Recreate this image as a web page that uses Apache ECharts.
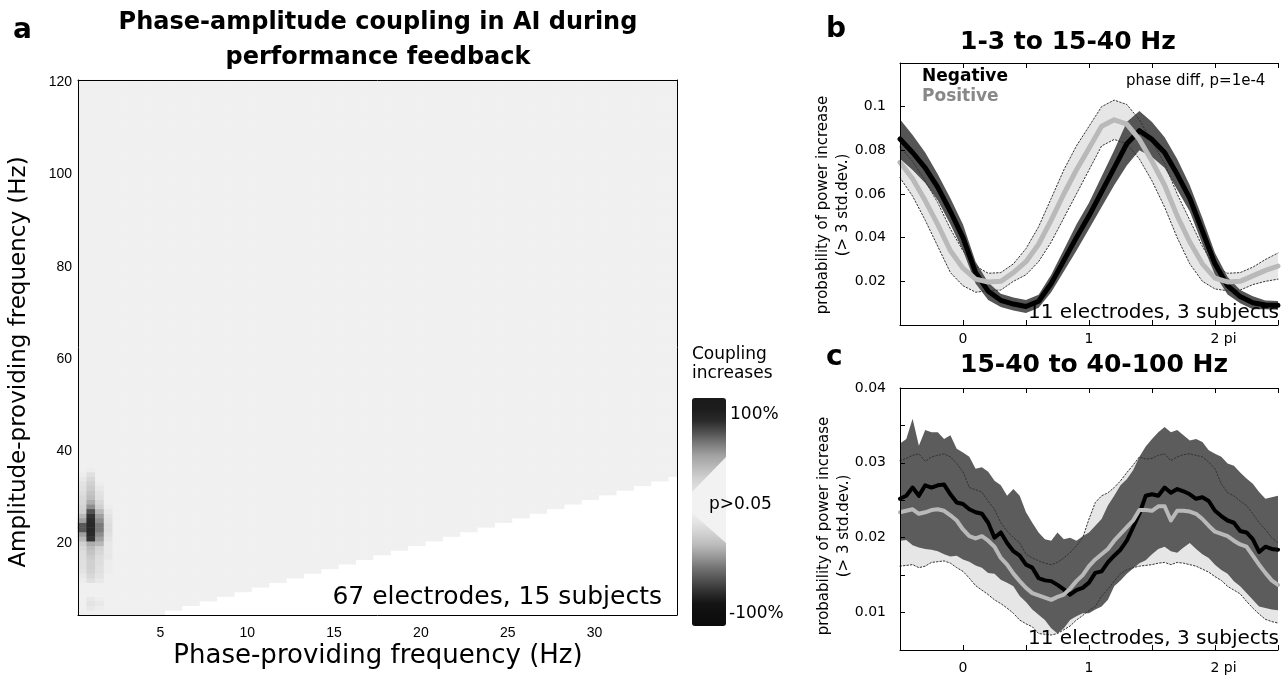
<!DOCTYPE html>
<html>
<head>
<meta charset="utf-8">
<title>phase-amplitude coupling</title>
<script src="https://cdn.jsdelivr.net/npm/echarts@6/dist/echarts.min.js"></script>
<style>
  html, body { margin: 0; padding: 0; background: #fff; }
  #DIV1 { width: 1281px; height: 675px; }
</style>
</head>
<body>
<div id="DIV1"></div>
<script>
// ---------- panel a : coupling map ----------
const phaseHz = [0.5,1,1.5,2,2.5,3,3.5,4,4.5,5,5.5,6,6.5,7,7.5,8,8.5,9,9.5,10,
  10.5,11,11.5,12,12.5,13,13.5,14,14.5,15,15.5,16,16.5,17,17.5,18,18.5,19,19.5,20,
  20.5,21,21.5,22,22.5,23,23.5,24,24.5,25,25.5,26,26.5,27,27.5,28,28.5,29,29.5,30,
  30.5,31,31.5,32,32.5,33,33.5,34,34.5];
const ampHz = [5,6,7,8,9,10,11,12,13,14,15,16,17,18,19,20,21,22,23,24,
  25,26,27,28,29,30,31,32,33,34,35,36,37,38,39,40,41,42,43,44,
  45,46,47,48,49,50,51,52,53,54,55,56,57,58,59,60,61,62,63,64,
  65,66,67,68,69,70,71,72,73,74,75,76,77,78,79,80,81,82,83,84,
  85,86,87,88,89,90,91,92,93,94,95,96,97,98,99,100,101,102,103,104,
  105,106,107,108,109,110,111,112,113,114,115,116,117,118,119,120];
// lowest amplitude bin that holds a value, per phase column (below it: white)
const firstAmpHz = [5,5,5,5,5,5,5,5,5,5, 6,6,7,7,8,8,9,9,10,10,
  11,11,12,12,13,13,14,14,15,15, 16,16,17,17,18,18,19,19,20,20,
  21,21,22,22,23,23,24,24,25,25, 26,26,27,27,28,28,29,29,30,30,
  31,31,32,32,33,33,34,34,35];
const baseCoupling = 0;
// the dark spot near 1 Hz / 24 Hz
const blobPhaseHz = [0.5, 1, 1.5, 2];
const blobAmpHz = [6,7,8,9,10,11,12,13,14,15,16,17,18,19,20,21,22,23,24,25,26,27,28,29,30,31,32,33,34,35,36];
const blob05 = [0,0,0,0,0,0,.12,.15,.18,.2,.2,.22,.22,.25,.3,.4,.5,.68,.68,.5,.4,.3,.28,.25,.25,.22,.2,.18,.15,.12,.1];
const blob10 = [.15,.18,.15,0,0,.1,.2,.25,.28,.3,.3,.32,.35,.38,.45,.78,.8,.82,.82,.8,.78,.7,.55,.45,.38,.35,.32,.3,.25,.2,.12];
const blob15 = [.12,.15,.12,0,0,.1,.15,.18,.2,.2,.22,.22,.25,.28,.4,.5,.55,.6,.6,.55,.5,.4,.3,.25,.2,.18,.15,.12,.1,0,0];
const blob20 = [0,0,0,0,0,0,0,.1,.12,.12,.12,.15,.15,.15,.15,.18,.2,.22,.22,.2,.18,.15,.12,.1,0,0,0,0,0,0,0];

// ---------- panel b : 1-3 to 15-40 Hz ----------
const phaseB = [-0.5,-0.4,-0.3,-0.2,-0.1,0,0.1,0.2,0.3,0.4,0.5,0.6,0.7,0.8,0.9,1,
  1.1,1.2,1.3,1.4,1.5,1.6,1.7,1.8,1.9,2,2.1,2.2,2.3,2.4,2.5];
const negB = [0.0852,0.079,0.072,0.063,0.052,0.040,0.024,0.0155,0.0113,0.0096,0.0085,0.0109,0.019,0.0295,0.040,0.050,
  0.061,0.072,0.083,0.089,0.085,0.079,0.069,0.058,0.043,0.028,0.018,0.013,0.0102,0.0092,0.009];
const negBHi = [0.0942,0.087,0.079,0.069,0.058,0.046,0.029,0.0195,0.0143,0.0126,0.0115,0.0139,0.023,0.0345,0.046,0.056,
  0.068,0.080,0.093,0.098,0.093,0.086,0.076,0.064,0.049,0.033,0.022,0.016,0.0132,0.0112,0.011];
const negBLo = [0.0762,0.071,0.065,0.057,0.046,0.034,0.019,0.0115,0.0083,0.0066,0.0055,0.0079,0.015,0.0245,0.034,0.044,
  0.054,0.064,0.073,0.080,0.077,0.072,0.062,0.052,0.037,0.023,0.014,0.010,0.0072,0.0072,0.007];
const posB = [0.0745,0.067,0.057,0.046,0.034,0.026,0.021,0.0197,0.020,0.024,0.029,0.037,0.048,0.060,0.071,0.081,
  0.091,0.094,0.092,0.085,0.075,0.064,0.050,0.038,0.028,0.0215,0.0197,0.020,0.0225,0.025,0.027];
const posBHi = [0.0815,0.075,0.066,0.056,0.044,0.034,0.027,0.0237,0.024,0.028,0.035,0.045,0.058,0.071,0.082,0.091,
  0.100,0.103,0.101,0.094,0.084,0.074,0.060,0.048,0.036,0.0265,0.0237,0.024,0.0265,0.030,0.033];
const posBLo = [0.0675,0.059,0.048,0.036,0.024,0.018,0.015,0.0157,0.016,0.020,0.023,0.029,0.038,0.049,0.060,0.071,
  0.082,0.085,0.083,0.076,0.066,0.054,0.040,0.028,0.020,0.0165,0.0157,0.016,0.0185,0.020,0.021];

// ---------- panel c : 15-40 to 40-100 Hz ----------
const phaseC = [-0.5,-0.45,-0.4,-0.35,-0.3,-0.25,-0.2,-0.15,-0.1,-0.05,0,0.05,0.1,0.15,0.2,0.25,0.3,0.35,0.4,0.45,
  0.5,0.55,0.6,0.65,0.7,0.75,0.8,0.85,0.9,0.95,1,1.05,1.1,1.15,1.2,1.25,1.3,1.35,1.4,1.45,
  1.5,1.55,1.6,1.65,1.7,1.75,1.8,1.85,1.9,1.95,2,2.05,2.1,2.15,2.2,2.25,2.3,2.35,2.4,2.45,2.5];
const negC = [0.0252,0.0256,0.0267,0.0256,0.0270,0.0267,0.0270,0.0271,0.0258,0.0247,
  0.0245,0.0238,0.0234,0.0232,0.0220,0.0200,0.0207,0.0193,0.0182,0.0176,
  0.0164,0.0160,0.0146,0.0143,0.0142,0.0137,0.0131,0.0124,0.0130,0.0133,
  0.0140,0.0153,0.0155,0.0167,0.0176,0.0184,0.0196,0.0214,0.0232,0.0256,
  0.0258,0.0256,0.0267,0.0260,0.0265,0.0262,0.0258,0.0252,0.0254,0.0249,
  0.0236,0.0229,0.0223,0.0220,0.0209,0.0207,0.0198,0.0181,0.0188,0.0185,0.0184];
const negCHi = [0.0326,0.0332,0.0359,0.0323,0.0344,0.0341,0.0341,0.0332,0.0337,0.0319,
  0.0314,0.0308,0.0292,0.0294,0.0288,0.0276,0.0270,0.0256,0.0265,0.0256,
  0.0234,0.0220,0.0207,0.0198,0.0196,0.0207,0.0198,0.0200,0.0196,0.0202,
  0.0207,0.0216,0.0225,0.0243,0.0256,0.0270,0.0278,0.0290,0.0308,0.0322,
  0.0332,0.0341,0.0348,0.0341,0.0344,0.0337,0.0330,0.0332,0.0328,0.0317,
  0.0312,0.0308,0.0299,0.0296,0.0287,0.0279,0.0272,0.0261,0.0252,0.0254,0.0256];
const negCLo = [0.0196,0.0197,0.0190,0.0187,0.0185,0.0184,0.0182,0.0178,0.0175,0.0176,
  0.0171,0.0168,0.0163,0.0160,0.0153,0.0152,0.0144,0.0140,0.0135,0.0122,
  0.0114,0.0104,0.0097,0.0090,0.0079,0.0072,0.0079,0.0090,0.0095,0.0099,
  0.0099,0.0104,0.0108,0.0117,0.0135,0.0143,0.0152,0.0159,0.0166,0.0170,
  0.0178,0.0185,0.0188,0.0182,0.0180,0.0187,0.0193,0.0185,0.0178,0.0173,
  0.0164,0.0157,0.0152,0.0142,0.0135,0.0126,0.0117,0.0108,0.0106,0.0104,0.0103];
const posC = [0.0234,0.0236,0.0238,0.0232,0.0234,0.0237,0.0238,0.0236,0.0230,0.0223,
  0.0211,0.0202,0.0199,0.0202,0.0196,0.0188,0.0173,0.0164,0.0152,0.0142,
  0.0133,0.0126,0.0123,0.0120,0.0117,0.0121,0.0124,0.0132,0.0142,0.0150,
  0.0162,0.0171,0.0178,0.0185,0.0196,0.0205,0.0214,0.0223,0.0237,0.0237,
  0.0236,0.0242,0.0242,0.0223,0.0236,0.0236,0.0235,0.0232,0.0225,0.0216,
  0.0208,0.0205,0.0202,0.0196,0.0191,0.0188,0.0176,0.0164,0.0153,0.0143,0.0137];
const posCHi = [0.0303,0.0306,0.0310,0.0312,0.0302,0.0308,0.0310,0.0312,0.0308,0.0299,
  0.0288,0.0267,0.0264,0.0261,0.0249,0.0238,0.0220,0.0209,0.0200,0.0193,
  0.0178,0.0173,0.0169,0.0166,0.0164,0.0167,0.0173,0.0180,0.0189,0.0200,
  0.0225,0.0247,0.0256,0.0260,0.0267,0.0276,0.0287,0.0297,0.0308,0.0305,
  0.0306,0.0310,0.0312,0.0303,0.0308,0.0311,0.0312,0.0310,0.0308,0.0301,
  0.0292,0.0272,0.0260,0.0256,0.0249,0.0243,0.0232,0.0220,0.0211,0.0200,0.0193];
const posCLo = [0.0162,0.0163,0.0164,0.0160,0.0162,0.0167,0.0168,0.0169,0.0166,0.0160,
  0.0155,0.0146,0.0136,0.0130,0.0124,0.0117,0.0112,0.0106,0.0099,0.0090,
  0.0085,0.0081,0.0072,0.0071,0.0070,0.0072,0.0077,0.0082,0.0090,0.0096,
  0.0103,0.0108,0.0122,0.0131,0.0142,0.0152,0.0157,0.0160,0.0162,0.0163,
  0.0164,0.0166,0.0167,0.0164,0.0167,0.0166,0.0164,0.0162,0.0158,0.0154,
  0.0148,0.0143,0.0135,0.0130,0.0125,0.0115,0.0106,0.0098,0.0091,0.0088,0.0086];

// grey colour bar, -100% (bottom) to 100% (top)
const couplingColors = ['#0c0c0c','#0e0e0e','#141414','#303030','#505050','#707070','#959595','#b8b8b8',
  '#cfcfcf','#e2e2e2','#f0f0f0','#f0f0f0','#e0e0e0','#d0d0d0','#b8b8b8','#a0a0a0','#7a7a7a','#505050',
  '#2a2a2a','#1c1c1c','#1a1a1a'];

// build heatmap cells
const blobCols = [blob05, blob10, blob15, blob20];
const mapData = [];
phaseHz.forEach(function (p, i) {
  ampHz.forEach(function (a, j) {
    if (a < firstAmpHz[i]) return;
    let v = baseCoupling;
    const bc = blobPhaseHz.indexOf(p), br = blobAmpHz.indexOf(a);
    if (bc >= 0 && br >= 0) v = blobCols[bc][br];
    mapData.push([i, j, v]);
  });
});

const chart = echarts.init(document.getElementById('DIV1'));

const black = '#000';
const sans = 'DejaVu Sans';
const tickA = { fontFamily: 'Liberation Sans', fontSize: 14, color: black };
const tickBC = { fontFamily: sans, fontSize: 14, color: black };

const everyFive = function (i, v) { return Number(v) % 5 === 0; };
const everyTwenty = function (i, v) { return Number(v) % 20 === 0; };
const piLabel = function (v) {
  if (Math.abs(v) < 1e-9) return '0';
  if (Math.abs(v - 1) < 1e-9) return '1';
  if (Math.abs(v - 2) < 1e-9) return '{p|2 pi}';
  return '';
};
const probLabel = function (v) {
  if (v < 0.009 || v > 0.105) return '';
  if (Math.abs(v * 100 - Math.round(v * 100)) > 1e-6) return '';
  return String(+v.toFixed(2));
};

const line = { onZero: false, lineStyle: { color: black, width: 1 } };
const tick = { inside: true, length: 5, lineStyle: { color: black, width: 1 } };

function catAxis(grid, data, pos, every, label) {
  return {
    type: 'category', gridIndex: grid, data: data, position: pos, z: 10,
    axisLine: line,
    axisTick: Object.assign({ alignWithLabel: true, interval: every }, tick),
    axisLabel: label ? Object.assign({ interval: every }, label) : { show: false },
    splitLine: { show: false }
  };
}
function valAxis(grid, pos, min, max, step, label) {
  return {
    type: 'value', gridIndex: grid, position: pos, min: min, max: max, interval: step, z: 10,
    axisLine: line, axisTick: tick, splitLine: { show: false },
    axisLabel: label || { show: false }
  };
}
const phaseTicks = function (margin) {
  return Object.assign({ formatter: piLabel, margin: margin,
    rich: { p: { fontFamily: sans, fontSize: 14, color: black, padding: [0, 0, 0, 17] } } }, tickBC);
};

// shaded spread between lo and hi, drawn as one polygon through the axes
function band(phase, lo, hi, color, xi, yi, z) {
  return {
    type: 'custom', xAxisIndex: xi, yAxisIndex: yi, z: z, silent: true, clip: true,
    data: phase.map(function (p, i) { return [p, lo[i], hi[i]]; }),
    encode: { x: 0, y: [1, 2] },
    renderItem: function (params, api) {
      if (params.dataIndex !== 0) return null;
      const pts = [];
      for (let i = 0; i < phase.length; i++) pts.push(api.coord([phase[i], hi[i]]));
      for (let i = phase.length - 1; i >= 0; i--) pts.push(api.coord([phase[i], lo[i]]));
      return { type: 'polygon', shape: { points: pts }, style: { fill: color } };
    }
  };
}
function curve(phase, vals, color, width, xi, yi, z, dash) {
  return { type: 'line', xAxisIndex: xi, yAxisIndex: yi, symbol: 'none', silent: true, z: z,
    lineStyle: { color: color, width: width, type: dash || 'solid', join: 'round', cap: 'round' },
    data: phase.map(function (p, i) { return [p, vals[i]]; }) };
}
function panelSeries(phase, neg, negLo, negHi, pos, posLo, posHi, xi, yi, darkColor, w) {
  return [
    band(phase, posLo, posHi, '#e6e6e6', xi, yi, 3),
    band(phase, negLo, negHi, darkColor, xi, yi, 4),
    curve(phase, posHi, '#333', 1, xi, yi, 5, [1.5, 2]),
    curve(phase, posLo, '#333', 1, xi, yi, 5, [1.5, 2]),
    curve(phase, neg, '#000', w, xi, yi, 6),
    curve(phase, pos, '#b9b9b9', w, xi, yi, 7)
  ];
}

function txt(x, y, s, font, extra) {
  return { type: 'text', x: x, y: y, z: 100, silent: true,
    style: Object.assign({ text: s, font: font, fill: black, textAlign: 'left', textVerticalAlign: 'middle' }, extra || {}) };
}
function vtxt(x, y, s, font, lh) {
  const el = txt(x, y, s, font, { textAlign: 'center', lineHeight: lh || 20 });
  el.rotation = Math.PI / 2;
  return el;
}

const option = {
  animation: false,
  backgroundColor: '#fff',
  grid: [
    { left: 78, top: 80, width: 599, height: 535 },
    { left: 900, top: 63, width: 386, height: 262 },
    { left: 900, top: 388, width: 386, height: 262 }
  ],
  xAxis: [
    catAxis(0, phaseHz.map(String), 'bottom', everyFive, Object.assign({ margin: 11 }, tickA)),
    catAxis(0, phaseHz.map(String), 'top', everyFive, null),
    valAxis(1, 'bottom', -0.5, 2.5, 0.5, phaseTicks(7)),
    valAxis(1, 'top', -0.5, 2.5, 0.5, null),
    valAxis(2, 'bottom', -0.5, 2.5, 0.5, phaseTicks(11)),
    valAxis(2, 'top', -0.5, 2.5, 0.5, null)
  ],
  yAxis: [
    catAxis(0, ampHz.map(String), 'left', everyTwenty, Object.assign({ margin: 6 }, tickA)),
    catAxis(0, ampHz.map(String), 'right', everyTwenty, null),
    valAxis(1, 'left', 0, 0.12, 0.02, Object.assign({ formatter: probLabel, margin: 14 }, tickBC)),
    valAxis(2, 'left', 0.005, 0.04, 0.005, Object.assign({ formatter: probLabel, margin: 14 }, tickBC))
  ],
  visualMap: [{
    type: 'continuous', min: -1, max: 1, seriesIndex: 0, calculable: false, show: true,
    left: 692, top: 398, itemWidth: 34, itemHeight: 228, padding: 0,
    inRange: { color: couplingColors }
  }],
  series: [
    { type: 'heatmap', xAxisIndex: 0, yAxisIndex: 0, data: mapData, progressive: 0,
      emphasis: { disabled: true }, itemStyle: { borderWidth: 0 } }
  ].concat(
    panelSeries(phaseB, negB, negBLo, negBHi, posB, posBLo, posBHi, 2, 2, '#555555', 5),
    panelSeries(phaseC, negC, negCLo, negCHi, posC, posCLo, posCHi, 4, 3, '#5c5c5c', 4)
  ),
  graphic: [
    // colour-bar notch
    { type: 'polygon', z: 90, silent: true,
      shape: { points: [[692, 492], [726, 457], [726, 543], [692, 513]] },
      style: { fill: '#f2f2f2' } },
    // panel a
    txt(13, 31, 'a', 'bold 28px "DejaVu Sans"'),
    txt(378, 5, 'Phase-amplitude coupling in AI during\nperformance feedback', 'bold 24px "DejaVu Sans"',
      { textAlign: 'center', textVerticalAlign: 'top', lineHeight: 35 }),
    vtxt(19, 362, 'Amplitude-providing frequency (Hz)', '23px "DejaVu Sans"'),
    txt(378, 656, 'Phase-providing frequency (Hz)', '26px "DejaVu Sans"', { textAlign: 'center' }),
    txt(662, 597, '67 electrodes, 15 subjects', '25px "DejaVu Sans"', { textAlign: 'right' }),
    txt(692, 364, 'Coupling\nincreases', '17px "DejaVu Sans"', { lineHeight: 19 }),
    txt(730, 415, '100%', '17px "DejaVu Sans"'),
    txt(709, 505, 'p>0.05', '17px "DejaVu Sans"'),
    txt(729, 614, '-100%', '17px "DejaVu Sans"'),
    // panel b
    txt(826, 30, 'b', 'bold 28px "DejaVu Sans"'),
    txt(960, 42, '1-3 to 15-40 Hz', 'bold 25px "DejaVu Sans"'),
    txt(922, 77, 'Negative', 'bold 17px "DejaVu Sans"'),
    txt(922, 97, 'Positive', 'bold 17px "DejaVu Sans"', { fill: '#888888' }),
    txt(1126, 81, 'phase diff, p=1e-4', '15px "DejaVu Sans"'),
    txt(1279, 313, '11 electrodes, 3 subjects', '20px "DejaVu Sans"', { textAlign: 'right' }),
    vtxt(833, 205, 'probability of power increase\n(> 3 std.dev.)', '15px "DejaVu Sans"'),
    // panel c
    txt(826, 358, 'c', 'bold 28px "DejaVu Sans"'),
    txt(960, 365, '15-40 to 40-100 Hz', 'bold 25px "DejaVu Sans"'),
    txt(1279, 639, '11 electrodes, 3 subjects', '20px "DejaVu Sans"', { textAlign: 'right' }),
    vtxt(834, 526, 'probability of power increase\n(> 3 std.dev.)', '15px "DejaVu Sans"')
  ]
};

chart.setOption(option);
</script>
</body>
</html>
